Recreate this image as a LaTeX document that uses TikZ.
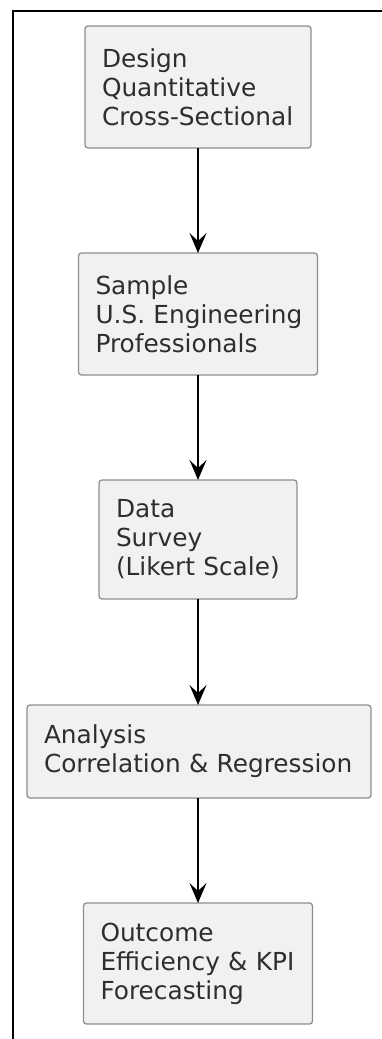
\documentclass[tikz,border=0pt]{standalone}
\usepackage{fontspec}
\setmainfont{DejaVu Sans}
\usetikzlibrary{arrows.meta}
\definecolor{boxfill}{HTML}{F1F1F1}
\definecolor{boxline}{HTML}{8E8E8E}
\definecolor{boxtext}{HTML}{2E2E2E}
\tikzset{
  stepbox/.style={draw=boxline, fill=boxfill, line width=1.3pt, rounded corners=3pt,
    text=boxtext, align=left, inner xsep=17pt, inner ysep=0pt, outer sep=0pt,
    font=\fontsize{24.8}{29}\selectfont},
  flow/.style={line width=1.5pt, -{Stealth[length=20pt, width=17pt, inset=8pt]}},
  frame/.style={line width=1.5pt}
}
\begin{document}
\begin{tikzpicture}[x=1pt, y=-1pt]
  \useasboundingbox (0,0) rectangle (382,1039);
  % outer frame, only top and left edges are visible
  \draw[frame] (13,1045) -- (13,11) -- (390,11);

  \node[stepbox, text width=192pt, minimum height=122pt] (design) at (198,87)
    {Design\\Quantitative\\\mbox{Cross-Sectional}};
  \node[stepbox, text width=205pt, minimum height=122pt] (sample) at (198,314)
    {Sample\\\mbox{U.S. Engineering}\\Professionals};
  \node[stepbox, text width=164pt, minimum height=119pt] (data) at (198,539.5)
    {Data\\Survey\\\mbox{(Likert Scale)}};
  \node[stepbox, text width=310pt, minimum height=93pt] (analysis) at (199,751.5)
    {Analysis\\\mbox{Correlation \& Regression}};
  \node[stepbox, text width=195pt, minimum height=121pt] (outcome) at (198,963.5)
    {Outcome\\\mbox{Efficiency \& KPI}\\Forecasting};

  \draw[flow] (design.south) -- (sample.north);
  \draw[flow] (sample.south) -- (data.north);
  \draw[flow] (data.south) -- (data.south |- analysis.north);
  \draw[flow] (data.south |- analysis.south) -- (outcome.north);
\end{tikzpicture}
\end{document}
